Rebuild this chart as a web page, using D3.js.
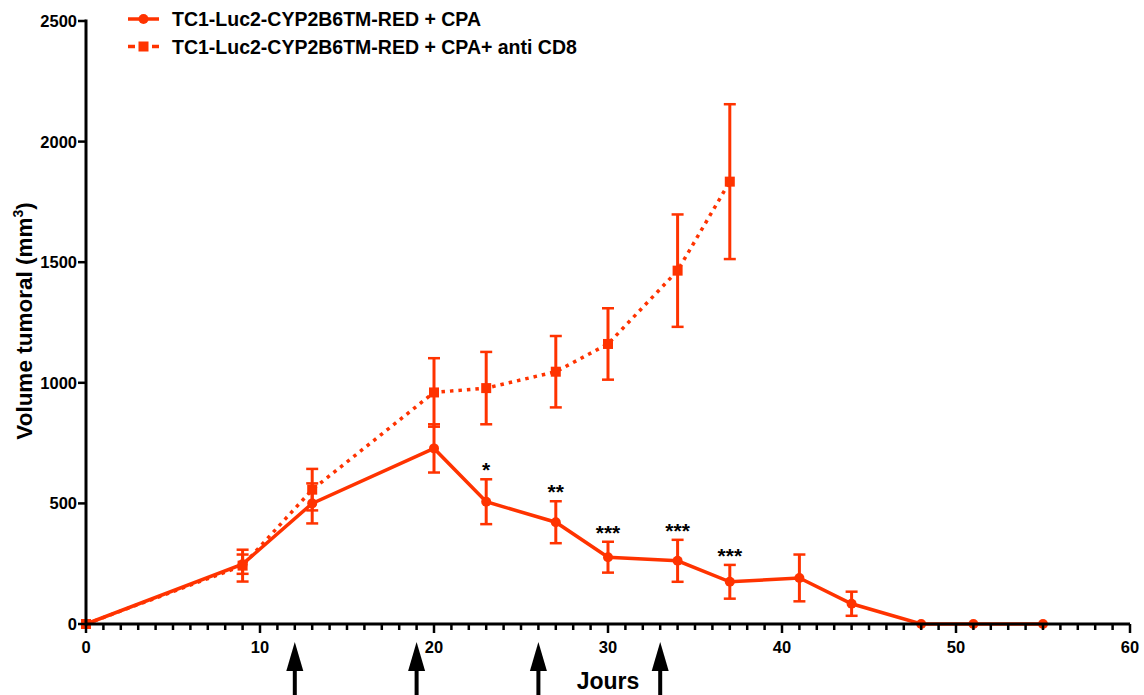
<!DOCTYPE html>
<html><head><meta charset="utf-8">
<script src="https://cdn.jsdelivr.net/npm/d3@7"></script>
<style>
body{margin:0;background:#fff;}
text{font-family:"Liberation Sans",Arial,sans-serif;font-weight:bold;}
</style></head>
<body><svg id="c" width="1144" height="695"></svg>
<script>
// ---- data ----
const seriesNames = ["TC1-Luc2-CYP2B6TM-RED + CPA", "TC1-Luc2-CYP2B6TM-RED + CPA+ anti CD8"];
const cpaDays = [0, 9, 13, 20, 23, 27, 30, 34, 37, 41, 44, 48, 51, 55];
const cpaMean = [0, 248, 500, 728, 507, 422, 277, 262, 175, 191, 84, 0, 0, 0];
const cpaErr  = [0, 40, 83, 100, 93, 87, 64, 87, 70, 97, 50, 0, 0, 0];
const cd8Days = [0, 9, 13, 20, 23, 27, 30, 34, 37];
const cd8Mean = [0, 242, 557, 960, 978, 1046, 1161, 1465, 1834];
const cd8Err  = [0, 66, 86, 142, 150, 148, 148, 233, 321];
const sigDays = [23, 27, 30, 34, 37];
const sigLabels = ["*", "**", "***", "***", "***"];
const arrowDays = [12, 19, 26, 33];
const xTicks = [0, 10, 20, 30, 40, 50, 60];
const yTicks = [0, 500, 1000, 1500, 2000, 2500];

const color = "#ff3300";
const svg = d3.select("#c");
const x = d3.scaleLinear().domain([0, 60]).range([86, 1130]);
const y = d3.scaleLinear().domain([0, 2500]).range([624, 21]);

const cpa = cpaDays.map((d, i) => ({x: d, y: cpaMean[i], e: cpaErr[i]}));
const cd8 = cd8Days.map((d, i) => ({x: d, y: cd8Mean[i], e: cd8Err[i]}));

// error bars
function errBars(data) {
  const g = svg.append("g").attr("stroke", color).attr("stroke-width", 3);
  data.filter(d => d.e > 0).forEach(d => {
    g.append("line").attr("x1", x(d.x)).attr("x2", x(d.x)).attr("y1", y(d.y + d.e)).attr("y2", y(d.y - d.e));
    [d.y + d.e, d.y - d.e].forEach(v => {
      g.append("line").attr("x1", x(d.x) - 6).attr("x2", x(d.x) + 6).attr("y1", y(v)).attr("y2", y(v)).attr("stroke-width", 2.5);
    });
  });
}
errBars(cd8);
errBars(cpa);

const line = d3.line().x(d => x(d.x)).y(d => y(d.y));
svg.append("path").datum(cd8).attr("d", line).attr("fill", "none").attr("stroke", color)
  .attr("stroke-width", 3.5).attr("stroke-dasharray", "3.5,5");
svg.append("path").datum(cpa).attr("d", line).attr("fill", "none").attr("stroke", color)
  .attr("stroke-width", 3.5);

svg.append("g").selectAll("rect").data(cd8).join("rect")
  .attr("x", d => x(d.x) - 5).attr("y", d => y(d.y) - 5).attr("width", 10).attr("height", 10).attr("fill", color);
svg.append("g").selectAll("circle").data(cpa).join("circle")
  .attr("cx", d => x(d.x)).attr("cy", d => y(d.y)).attr("r", 5).attr("fill", color);

// significance
svg.append("g").selectAll("text").data(sigDays).join("text")
  .attr("x", d => x(d)).attr("y", (d, i) => { const p = cpa.find(c => c.x === d); return y(p.y + p.e) - 2; })
  .attr("text-anchor", "middle").attr("font-size", 21).attr("fill", "#000").text((d, i) => sigLabels[i]);

// axes
const xAxis = svg.append("g").attr("transform", "translate(0,624)");
xAxis.append("line").attr("x1", x(0)).attr("x2", x(60)).attr("stroke", "#000").attr("stroke-width", 3);
xAxis.selectAll(".mt").data(d3.range(0, 61)).join("line")
  .attr("x1", d => x(d)).attr("x2", d => x(d)).attr("y1", 0).attr("y2", d => d % 10 === 0 ? 9 : 6)
  .attr("stroke", "#000").attr("stroke-width", 2.5);
xAxis.selectAll("text").data(xTicks).join("text")
  .attr("x", d => x(d)).attr("y", 29).attr("text-anchor", "middle").attr("font-size", 16.5).text(d => d);

const yAxis = svg.append("g").attr("transform", "translate(86,0)");
yAxis.append("line").attr("y1", y(0) + 1.5).attr("y2", y(2500) - 1.5).attr("stroke", "#000").attr("stroke-width", 3);
yAxis.selectAll(".t").data(yTicks).join("line")
  .attr("x1", -8).attr("x2", 0).attr("y1", d => y(d)).attr("y2", d => y(d)).attr("stroke", "#000").attr("stroke-width", 2.5);
yAxis.selectAll("text").data(yTicks).join("text")
  .attr("x", -9).attr("y", d => y(d) + 6).attr("text-anchor", "end").attr("font-size", 16.5).text(d => d);

// axis titles
svg.append("text").attr("x", 608).attr("y", 689).attr("text-anchor", "middle").attr("font-size", 23).text("Jours");
const yl = svg.append("text").attr("transform", "translate(32,321) rotate(-90)").attr("text-anchor", "middle").attr("font-size", 22.5);
yl.append("tspan").text("Volume tumoral (mm");
yl.append("tspan").attr("font-size", 14).attr("dy", -9).text("3");
yl.append("tspan").attr("dy", 9).text(")");

// arrows
const ag = svg.append("g");
arrowDays.forEach(d => {
  const cx = x(d);
  ag.append("line").attr("x1", cx).attr("x2", cx).attr("y1", 668).attr("y2", 695).attr("stroke", "#000").attr("stroke-width", 4);
  ag.append("path").attr("d", `M${cx},642 L${cx - 8.5},671 L${cx + 8.5},671 Z`).attr("fill", "#000");
});

// legend
const lg = svg.append("g");
[0, 1].forEach(i => {
  const ly = 19 + i * 27.5;
  if (i === 0) {
    lg.append("line").attr("x1", 128).attr("x2", 159).attr("y1", ly).attr("y2", ly).attr("stroke", color).attr("stroke-width", 3.5);
    lg.append("circle").attr("cx", 143.5).attr("cy", ly).attr("r", 5).attr("fill", color);
  } else {
    lg.append("line").attr("x1", 128).attr("x2", 135).attr("y1", ly).attr("y2", ly).attr("stroke", color).attr("stroke-width", 3.5);
    lg.append("line").attr("x1", 152).attr("x2", 159).attr("y1", ly).attr("y2", ly).attr("stroke", color).attr("stroke-width", 3.5);
    lg.append("rect").attr("x", 138.5).attr("y", ly - 5).attr("width", 10).attr("height", 10).attr("fill", color);
  }
  lg.append("text").attr("x", 172).attr("y", ly + 7).attr("font-size", 19.5).text(seriesNames[i]);
});
</script></body></html>
